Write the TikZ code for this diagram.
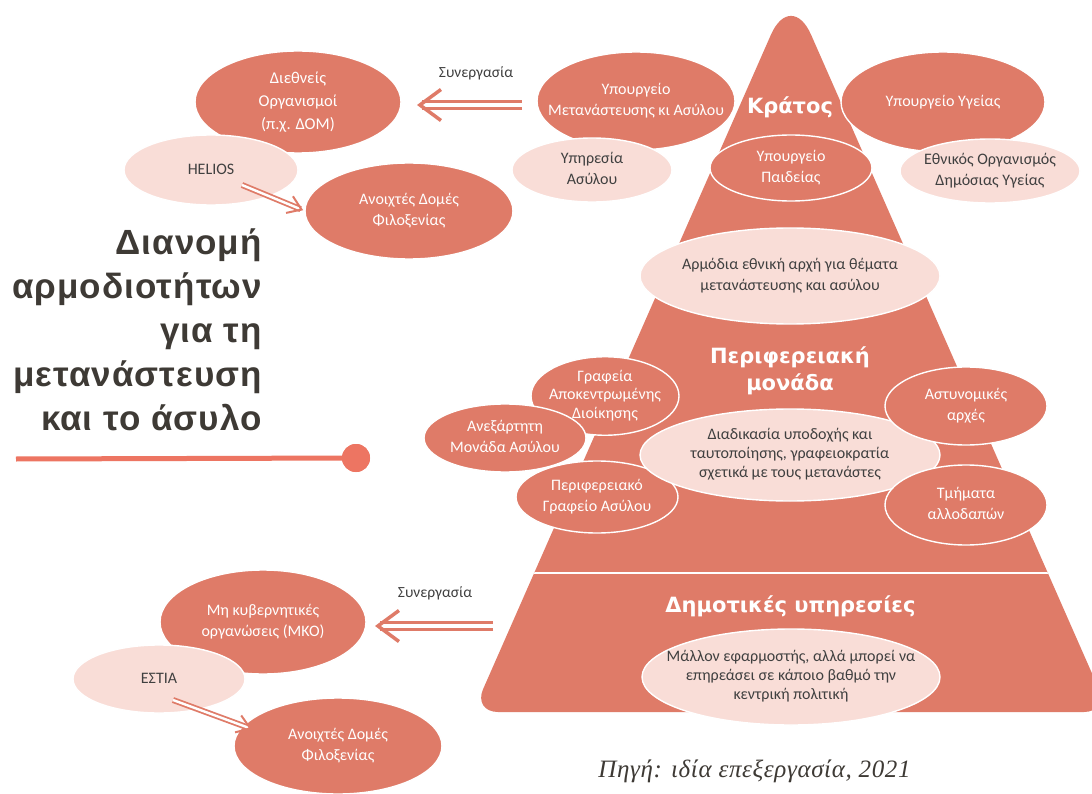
\documentclass[tikz,border=0pt]{standalone}
\usepackage{fontspec}
\setmainfont{Carlito}
\newfontfamily\heavy{DejaVu Sans}
\newfontfamily\titfont[LetterSpace=3]{Liberation Sans}
\newfontfamily\srcserif[LetterSpace=2.5]{Liberation Serif}
\usetikzlibrary{shapes.geometric,arrows.meta}
\definecolor{salm}{HTML}{DF7B68}
\definecolor{pinkl}{HTML}{F9DDD7}
\definecolor{coral}{HTML}{ED7562}
\definecolor{txtg}{HTML}{404040}
\definecolor{titc}{HTML}{3E3A35}
\newcommand{\ct}[1]{\makebox[0pt]{\begin{tabular}{@{}c@{}}#1\end{tabular}}}
\begin{document}
\begin{tikzpicture}[x=1pt,y=-1pt,
 oval/.style={ellipse, draw=white, line width=1.4pt, inner sep=0pt, outer sep=0pt, font=\fontsize{16}{20.5}\selectfont},
 dk/.style={oval, fill=salm, text=white},
 lt/.style={oval, fill=pinkl, text=txtg},
 sz/.style 2 args={minimum width=#1pt, minimum height=#2pt},
 tier/.style={text=white, font=\heavy\bfseries\fontsize{21}{27}\selectfont, align=center, inner sep=0pt},
 bigarrow/.style={draw=salm, line width=3.3pt, double=white, double distance=4pt, -{Straight Barb[length=21pt,width=31pt,line width'=3.5pt]}},
 smallarrow/.style={draw=salm, line width=1.8pt, double=white, double distance=2.4pt, -{Straight Barb[length=13pt,width=18pt,line width'=2pt]}},
 note/.style={text=txtg, font=\fontsize{15.5}{18}\selectfont, inner sep=0pt}
]
\useasboundingbox (0,0) rectangle (1092,794);
\fill[white] (0,0) rectangle (1092,794);

% pyramid
\fill[salm] (483.1,689.1) -- (770.9,34.8) .. controls (782,9.6) and (800,9.6) .. (811.1,34.8)
  -- (1098.9,689.1) .. controls (1104.5,701.7) and (1097.75,712) .. (1084,712)
  -- (498,712) .. controls (484.25,712) and (477.5,701.7) .. (483.1,689.1) -- cycle;
\begin{scope}
\clip (483.1,689.1) -- (770.9,34.8) -- (811.1,34.8) -- (1098.9,689.1) -- (1084,712) -- (498,712) -- cycle;
\draw[white, line width=2.5pt] (400,573) -- (1200,573);
\end{scope}

% tier labels
\node[tier] (kratos) at (790,107) {Κράτος};
\node[tier] (perif) at (790,371) {Περιφερειακή\\μονάδα};
\node[tier, anchor=base] (dimot) at (790.5,612) {Δημοτικές υπηρεσίες};

% top left
\node[dk, sz={206}{102}, font=\fontsize{16.5}{23}\selectfont] (dieth) at (298,102) {\ct{Διεθνείς\\Οργανισμοί\\(π.χ. ΔΟΜ)}};
\node[lt, sz={174}{70}] (helios) at (211,170) {\ct{HELIOS}};
\node[dk, sz={208}{96}] (anoixt1) at (409,211) {\ct{Ανοιχτές Δομές\\Φιλοξενίας}};

% top right
\node[dk, sz={198}{98}] (ypmet) at (636,101) {\ct{Υπουργείο\\Μετανάστευσης κι Ασύλου}};
\node[lt, sz={160}{64}] (ypasyl) at (592,170) {\ct{Υπηρεσία\\Ασύλου}};
\node[dk, sz={162}{66}] (yppaid) at (791,168) {\ct{Υπουργείο\\Παιδείας}};
\node[dk, sz={204}{100}] (ypyg) at (943,102) {\ct{Υπουργείο Υγείας}};
\node[lt, sz={180}{64}] (eody) at (990,171) {\ct{Εθνικός Οργανισμός\\Δημόσιας Υγείας}};

% middle
\node[lt, sz={300}{96}] (armod) at (790,276) {\ct{Αρμόδια εθνική αρχή για θέματα\\μετανάστευσης και ασύλου}};
\node[dk, sz={148}{76}, font=\fontsize{16}{18.5}\selectfont] (grafeia) at (605,396) {\ct{Γραφεία\\Αποκεντρωμένης\\Διοίκησης}};
\node[dk, sz={162}{68}] (anex) at (505,438) {\ct{Ανεξάρτητη\\Μονάδα Ασύλου}};
\node[dk, sz={162}{72}] (perifgr) at (597,497) {\ct{Περιφερειακό\\Γραφείο Ασύλου}};
\node[lt, sz={300}{92}, font=\fontsize{16}{19}\selectfont] (diad) at (790,455) {\ct{Διαδικασία υποδοχής και\\ταυτοποίησης, γραφειοκρατία\\σχετικά με τους μετανάστες}};
\node[dk, sz={162}{78}] (astyn) at (966,406) {\ct{Αστυνομικές\\αρχές}};
\node[dk, sz={162}{80}] (tmim) at (966,505) {\ct{Τμήματα\\αλλοδαπών}};

% bottom
\node[lt, sz={298}{96}, font=\fontsize{16}{19}\selectfont] (mallon) at (791,677) {\ct{Μάλλον εφαρμοστής, αλλά μπορεί να\\επηρεάσει σε κάποιο βαθμό την\\κεντρική πολιτική}};
\node[dk, sz={206}{104}] (mko) at (263,622) {\ct{Μη κυβερνητικές\\οργανώσεις (ΜΚΟ)}};
\node[lt, sz={172}{68}] (estia) at (159,679) {\ct{ΕΣΤΙΑ}};
\node[dk, sz={208}{96}] (anoixt2) at (338,746) {\ct{Ανοιχτές Δομές\\Φιλοξενίας}};

% arrows
\draw[bigarrow, shorten <=15pt, shorten >=16pt] ([yshift=-4pt]ypmet.west) -- ([yshift=-3pt]dieth.east);
\coordinate (pyrleft) at (511,626);
\draw[bigarrow, shorten <=18pt, shorten >=9pt] (pyrleft) -- ([yshift=-4pt]mko.east);
\coordinate (hs) at (242,185);
\draw[smallarrow, shorten >=2pt] (hs) -- (anoixt1.west);
\coordinate (es) at (173,700);
\draw[smallarrow, shorten >=-9pt] (es) -- (anoixt2.168);

\node[note] (syn1) at (476,73) {Συνεργασία};
\node[note] (syn2) at (435,593) {Συνεργασία};

% title
\node[anchor=north east, align=right, inner sep=0pt, text=titc, font=\titfont\bfseries\fontsize{35}{44}\selectfont] (title) at (262,229) {Διανομή\\αρμοδιοτήτων\\για τη\\μετανάστευση\\και το άσυλο};
\coordinate (ls) at (16,459);
\node[circle, fill=coral, minimum size=28pt, inner sep=0pt] (dot) at (356,458) {};
\draw[coral, line width=5pt] (ls) -- (dot.center);
\node[circle, fill=coral, minimum size=28pt, inner sep=0pt] at (dot.center) {};

% source
\node[anchor=base, text=titc, font=\srcserif\itshape\fontsize{25}{28}\selectfont, inner sep=0pt] (src) at (754.5,777) {Πηγή: ιδία επεξεργασία, 2021};
\end{tikzpicture}
\end{document}
